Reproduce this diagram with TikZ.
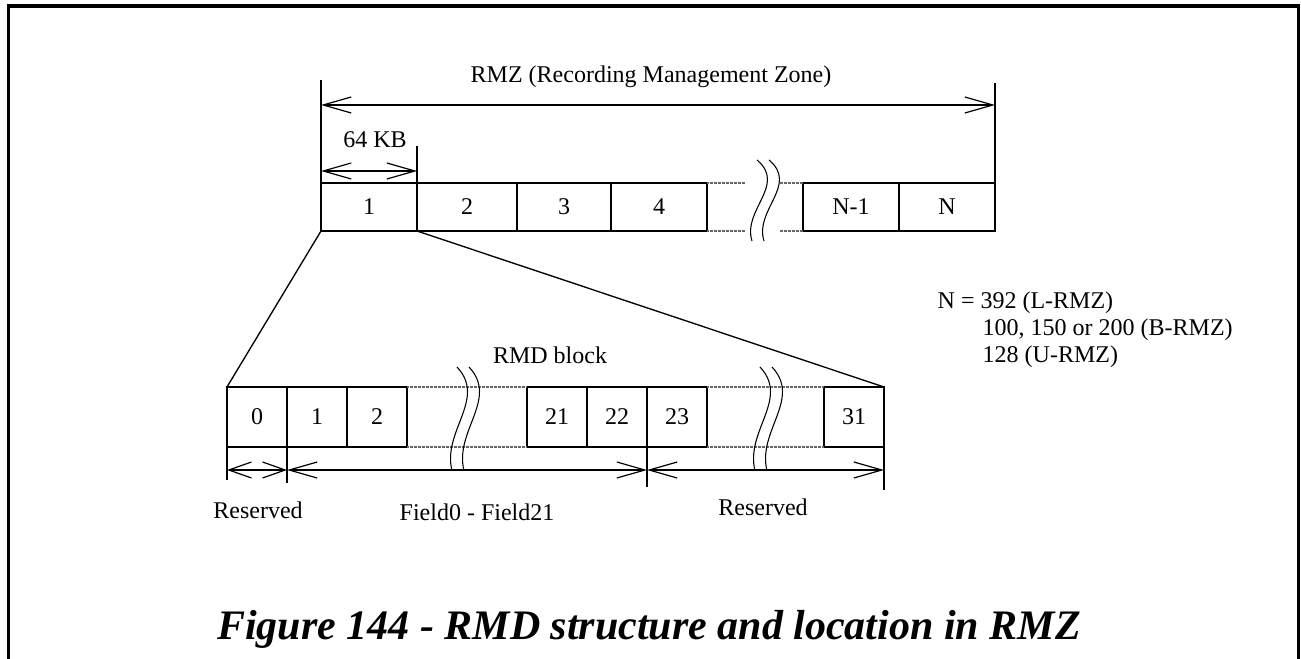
\documentclass[tikz,border=0pt]{standalone}
\usepackage{fontspec}
\setmainfont{Liberation Serif}
\usetikzlibrary{arrows.meta,positioning,calc}

\tikzset{
  brkwave/.pic={
    \draw[line width=0.8pt] (0,0) .. controls (30,25) and (-15,50) .. (-5,81);
    \draw[line width=0.8pt] (12,0) .. controls (42,25) and (-3,50) .. (7,81);
  }
}

\begin{document}
\begin{tikzpicture}[
  x=0.75pt, y=-0.75pt,
  font=\fontsize{18}{20}\selectfont,
  cell/.style={draw, line width=1.9pt, inner sep=0pt, outer sep=0pt},
  topcell/.style={cell, minimum width=72pt, minimum height=36pt},
  rmdcell/.style={cell, minimum width=45pt, minimum height=45pt},
  hatch/.style={draw=black!60, line width=2pt, dash pattern=on 0.5pt off 0.5pt},
  zoomline/.style={line width=1pt},
  extline/.style={line width=1.8pt},
  dim/.style={{Straight Barb[length=21pt,width=12pt,line width=0.9pt]}-{Straight Barb[length=21pt,width=12pt,line width=0.9pt]}, line width=1.5pt},
  dimshort/.style={{Straight Barb[length=17pt,width=12pt,line width=0.9pt]}-{Straight Barb[length=17pt,width=12pt,line width=0.9pt]}, line width=1.5pt}
]
\useasboundingbox (0,0) rectangle (1301,659);
% open frame
\draw[line width=2.3pt] (8.5,670) -- (8.5,6) -- (1298.5,6) -- (1298.5,670);

% RMZ row
\node[topcell] (r1) at (369,207) {1};
\node[topcell, minimum width=75pt, right=0pt of r1] (r2) {2};
\node[topcell, minimum width=70.5pt, right=0pt of r2] (r3) {3};
\node[topcell, right=0pt of r3] (r4) {4};
\node[topcell, right=72pt of r4] (r5) {N-1};
\node[topcell, right=0pt of r5] (r6) {N};
\draw[hatch] (r4.north east) -- ++(38,0);
\draw[hatch] (r5.north west) -- ++(-24,0);
\draw[hatch] (r4.south east) -- ++(38,0);
\draw[hatch] (r5.south west) -- ++(-24,0);
\pic at (757,160) {brkwave};

% dimensions above the RMZ row
\draw[extline] (r1.north west) -- ++(0,-103) coordinate (zl);
\draw[extline] (r6.north east) -- ++(0,-100) coordinate (zr);
\draw[extline] (r1.north east) -- ++(0,-37) coordinate (kr);
\coordinate (zla) at (r1.north west |- 0,105);
\coordinate (zra) at (r6.north east |- 0,105);
\coordinate (kla) at (r1.north west |- 0,171);
\coordinate (kra) at (r1.north east |- 0,171);
\draw[dim] (zla) -- (zra);
\draw[dim] (kla) -- (kra);
\node[anchor=base] (rmzlbl) at (651,83) {RMZ (Recording Management Zone)};
\node[anchor=base] (kblbl) at (375,148) {64 KB};

% RMD block row
\node[rmdcell] (b0) at (257,417) {0};
\node[rmdcell, right=0pt of b0] (b1) {1};
\node[rmdcell, right=0pt of b1] (b2) {2};
\node[rmdcell, right=90pt of b2] (b21) {21};
\node[rmdcell, right=0pt of b21] (b22) {22};
\node[rmdcell, right=0pt of b22] (b23) {23};
\node[rmdcell, right=87.75pt of b23] (b31) {31};
\draw[hatch] (b2.north east) -- (b21.north west);
\draw[hatch] (b2.south east) -- (b21.south west);
\draw[hatch] (b23.north east) -- (b31.north west);
\draw[hatch] (b23.south east) -- (b31.south west);
\pic[yscale=1.28] at (457,367) {brkwave};
\pic[yscale=1.28] at (760,367) {brkwave};
\node[anchor=base] (rmdlbl) at (550,363) {RMD block};

% zoom lines
\draw[zoomline] (r1.south west) -- (b0.north west);
\draw[zoomline] (r1.south east) -- (b31.north east);

% dimensions below the RMD row
\draw[extline] (b0.south west) -- ++(0,33);
\draw[extline] (b1.south west) -- ++(0,36);
\draw[extline] (b23.south west) -- ++(0,40);
\draw[extline] (b31.south east) -- ++(0,43);
\coordinate (d0) at (b0.south west |- 0,470);
\coordinate (d1) at (b1.south west |- 0,470);
\coordinate (d2) at (b23.south west |- 0,470);
\coordinate (d3) at (b31.south east |- 0,470);
\draw[dimshort] (d0) -- (d1);
\draw[dim] (d1) -- (d2);
\draw[dim] (d2) -- (d3);
\node[anchor=base] (res1) at (258,518) {Reserved};
\node[anchor=base] (fld) at (477,520) {Field0 - Field21};
\node[anchor=base] (res2) at (763,515) {Reserved};

% N values
\node[anchor=base west] (nv1) at (933,308) {N = 392 (L-RMZ)};
\node[anchor=base west] (nv2) at (978,335) {100, 150 or 200 (B-RMZ)};
\node[anchor=base west] (nv3) at (978,362) {128 (U-RMZ)};

\node[anchor=base, font=\fontsize{31.5}{34}\selectfont\bfseries\itshape] (cap) at (649,639)
  {Figure 144 - RMD structure and location in RMZ};
\end{tikzpicture}
\end{document}
